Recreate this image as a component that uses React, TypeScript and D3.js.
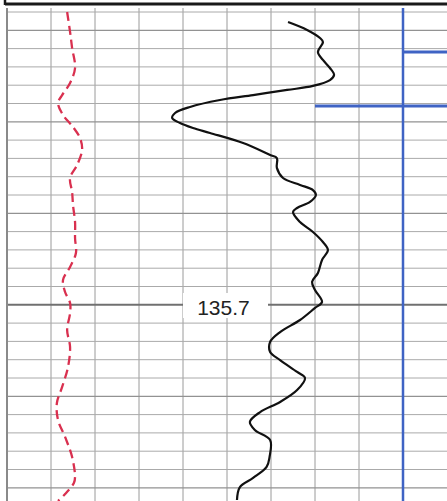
import React from "react";
import * as d3 from "d3";

// Depth (m) and gamma-ray style values for the solid black curve
const grDepth = [134.155,134.198,134.242,134.264,134.319,134.362,134.406,134.444,134.472,134.504,134.526,134.554,134.581,134.619,134.652,134.679,134.707,134.734,134.761,134.816,134.881,134.898,134.952,135.007,135.045,135.073,135.100,135.138,135.171,135.193,135.248,135.302,135.357,135.401,135.455,135.526,135.575,135.619,135.685,135.717,135.783,135.849,135.903,135.958,136.002,136.067,136.100,136.166,136.231,136.286,136.340,136.384,136.439,136.532,136.586,136.646,136.696,136.767];
const grValue = [95.8,102.3,106.7,107.7,106.0,107.7,110.1,111.5,110.1,104.3,95.5,83.9,72.6,62.4,57.3,56.3,59.0,63.4,69.2,80.5,89.7,92.0,92.0,94.1,99.9,104.3,105.3,103.3,98.9,97.5,99.9,104.3,107.7,109.4,107.4,106.0,104.0,105.0,107.4,105.0,99.9,93.1,89.7,89.7,93.1,98.9,101.6,98.9,93.1,86.3,82.8,84.5,89.7,89.5,88.5,83.9,79.4,78.4];

// Depth and values for the dashed red curve
const spDepth = [134.100,134.209,134.297,134.406,134.488,134.554,134.597,134.663,134.728,134.789,134.854,134.936,135.007,135.084,135.155,135.248,135.336,135.417,135.493,135.564,135.630,135.690,135.745,135.838,135.930,136.040,136.149,136.237,136.330,136.422,136.532,136.641,136.674,136.734,136.772];
const spValue = [20.5,21.5,22.2,23.2,21.5,18.8,17.4,19.1,22.5,24.9,25.6,23.9,21.5,22.2,22.5,23.2,23.2,23.5,21.5,19.1,19.8,21.5,21.5,20.5,21.5,20.8,18.8,17.0,17.4,19.8,22.2,23.2,22.8,19.8,17.4];

// Marker lines (blue)
const markerDepths = [134.319, 134.613];
const markerFrom = [135, 105];
const markerColumnValue = 135;

const depthLabel = "135.7";
const depthLabelValue = 135.7;

export default function App() {
  const W = 447, H = 501;
  const x = d3.scaleLinear().domain([0, 150]).range([7, 447]);
  const y = d3.scaleLinear().domain([134.1, 136.1]).range([12, 378]);

  const hDepths = d3.range(0, 28).map(i => +(134.1 + i * 0.1).toFixed(1));
  const vVals = d3.range(1, 10).map(i => i * 15);

  const line = d3.line<number>().curve(d3.curveCatmullRom.alpha(0.5));
  const grPath = line(grDepth.map((d, i) => [x(grValue[i]), y(d)] as any) as any);
  const spPath = line(spDepth.map((d, i) => [x(spValue[i]), y(d)] as any) as any);

  const blue = "#3f63c4";
  const labelY = y(depthLabelValue);
  const labelX = x(73.8);

  return (
    <svg width={W} height={H} style={{ position: "fixed", left: 0, top: 0, background: "#fff" }}>
      <rect x={0} y={0} width={W} height={H} fill="#fff" />
      {vVals.map(v => (
        <line key={"v" + v} x1={x(v)} x2={x(v)} y1={8} y2={H} stroke="#9a9a9a" strokeWidth={1} />
      ))}
      {hDepths.map(d => {
        const k = Math.round(d * 10) % 5;
        const major = Math.abs(d - depthLabelValue) < 1e-6;
        const medium = k === 2;
        return (
          <line key={"h" + d} x1={7} x2={W} y1={y(d)} y2={y(d)}
            stroke={major ? "#707070" : medium ? "#929292" : "#aaaaaa"}
            strokeWidth={major ? 2 : medium ? 1.3 : 1} />
        );
      })}
      <line x1={x(0)} x2={x(0)} y1={8} y2={H} stroke="#8a8a8a" strokeWidth={2} />
      <line x1={5} x2={W} y1={4} y2={4} stroke="#1a1a1a" strokeWidth={3} />
      <line x1={5} x2={5} y1={0} y2={5} stroke="#1a1a1a" strokeWidth={2.5} />
      <rect x={183} y={293} width={85} height={25} fill="#fff" />
      <text x={labelX} y={labelY + 10} textAnchor="middle" fontFamily="Liberation Sans, Arial, sans-serif" fontSize={21} fill="#222">{depthLabel}</text>
      <line x1={x(markerColumnValue)} x2={x(markerColumnValue)} y1={8} y2={H} stroke={blue} strokeWidth={2.5} />
      {markerDepths.map((d, i) => (
        <line key={"m" + i} x1={x(markerFrom[i])} x2={W} y1={y(d)} y2={y(d)} stroke={blue} strokeWidth={3} />
      ))}
      <path d={spPath || ""} fill="none" stroke="#d9304f" strokeWidth={2.3} strokeDasharray="9 5" />
      <path d={grPath || ""} fill="none" stroke="#111" strokeWidth={2.2} strokeLinejoin="round" />
    </svg>
  );
}
